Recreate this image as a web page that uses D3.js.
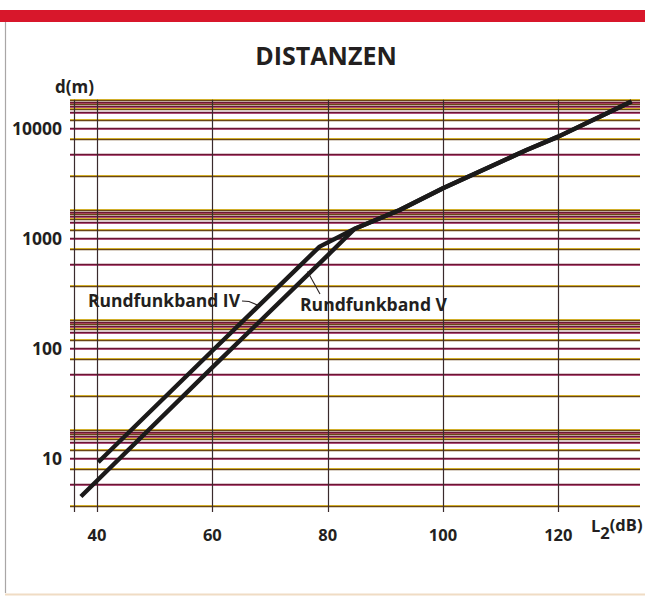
<!DOCTYPE html>
<html>
<head>
<meta charset="utf-8">
<script src="https://cdn.jsdelivr.net/npm/d3@7"></script>
<style>
	body { margin: 0; background: #fff; }
	text { font-family: "Open Sans", sans-serif; fill: #231f20; }
</style>
</head>
<body>
<div id="chart"></div>
<script>
// values
const xTicks = [40, 60, 80, 100, 120];
const yTicks = [10, 100, 1000, 10000];
const decades = [10, 100, 1000, 10000];
// horizontal rules inside each decade, as a factor of the decade
const gridSteps = [0.37, 0.58, 0.8, 1, 1.2, 1.4, 1.5, 1.6, 1.67, 1.74, 1.8];

// [L2 (dB), d (m)]
const bandIV = [[40.2, 9.2], [60, 95], [78.6, 840], [84.7, 1220]];
const bandV = [[37.2, 4.5], [60, 67], [80, 700], [84.7, 1220]];
const common = [[84.7, 1220], [92.5, 1810], [100, 2850], [114.5, 6350], [120, 8400], [132.7, 17500]];

const width = 645;
const height = 596;

const svg = d3.select('#chart').append('svg')
	.attr('width', width)
	.attr('height', height);

const x = d3.scaleLinear()
	.domain([36, 134])
	.range([74, 639]);

const y = d3.scaleLog()
	.domain([10, 10000])
	.range([458.3, 128.3]);

// page furniture: red band and frame
svg.append('rect')
	.attr('x', 0).attr('y', 10)
	.attr('width', width).attr('height', 12)
	.attr('fill', '#d8172b');
svg.append('line')
	.attr('x1', 5.5).attr('x2', 5.5)
	.attr('y1', 22).attr('y2', 593)
	.attr('stroke', '#a9a6a6').attr('stroke-width', 1.2);
svg.append('line')
	.attr('x1', 5).attr('x2', width)
	.attr('y1', 594.5).attr('y2', 594.5)
	.attr('stroke', '#f0dcc4').attr('stroke-width', 2);

// title
svg.append('text')
	.attr('x', 326).attr('y', 64.5)
	.attr('text-anchor', 'middle')
	.style('font-size', '25px')
	.style('font-weight', 700)
	.text('DISTANZEN');

// horizontal grid
const gridValues = [];
decades.forEach(dec => gridSteps.forEach((s, i) => gridValues.push({ v: dec * s, i })));

const topY = y(10000 * 1.8);

const hGrid = svg.append('g');
gridValues.forEach(d => {
	const yy = Math.round(y(d.v)) + 0.5;
	const gold = d.i % 2 === 0;
	hGrid.append('line')
		.attr('x1', 70).attr('x2', 640)
		.attr('y1', gold ? yy - 1 : yy + 1).attr('y2', gold ? yy - 1 : yy + 1)
		.attr('stroke', gold ? '#f3c800' : '#b8407a')
		.attr('stroke-width', 1)
		.attr('opacity', 0.8);
	hGrid.append('line')
		.attr('x1', 70).attr('x2', 640)
		.attr('y1', yy).attr('y2', yy)
		.attr('stroke', gold ? '#6a4614' : '#6b1532')
		.attr('stroke-width', 1.3);
});

// vertical grid, incl. the left axis line
const vGrid = svg.append('g');
[36, ...xTicks].forEach(v => {
	const xx = Math.round(x(v)) + 0.5;
	vGrid.append('line')
		.attr('x1', xx).attr('x2', xx)
		.attr('y1', topY - 0.5).attr('y2', 512)
		.attr('stroke', '#3a2a2c')
		.attr('stroke-width', 1.2);
});

// tick labels
svg.append('g')
	.selectAll('text')
	.data(xTicks)
	.enter().append('text')
		.attr('x', d => x(d))
		.attr('y', 541)
		.attr('text-anchor', 'middle')
		.style('font-size', '16.5px')
		.style('font-weight', 700)
		.text(d => d);

svg.append('g')
	.selectAll('text')
	.data(yTicks)
	.enter().append('text')
		.attr('x', 62)
		.attr('y', d => y(d) + 6.3)
		.attr('text-anchor', 'end')
		.style('font-size', '17.5px')
		.style('font-weight', 700)
		.text(d => d);

// axis titles
svg.append('text')
	.attr('x', 55).attr('y', 93)
	.style('font-size', '17px')
	.style('font-weight', 700)
	.text('d(m)');

const xTitle = svg.append('text')
	.attr('x', 591).attr('y', 532)
	.style('font-size', '16.5px')
	.style('font-weight', 700);
xTitle.append('tspan').text('L');
xTitle.append('tspan').attr('dy', 7).text('2');
xTitle.append('tspan').attr('dy', -8).text('(dB)');

// curves
const line = d3.line()
	.x(d => x(d[0]))
	.y(d => y(d[1]));

svg.append('g')
	.selectAll('path')
	.data([bandIV.concat(common.slice(1)), bandV.concat(common.slice(1))])
	.enter().append('path')
		.attr('d', line)
		.attr('fill', 'none')
		.attr('stroke', '#1b1a1a')
		.attr('stroke-width', 4.4)
		.attr('stroke-linejoin', 'round');

// band labels with leader lines
svg.append('text')
	.attr('x', 88).attr('y', 307)
	.attr('textLength', 152).attr('lengthAdjust', 'spacingAndGlyphs')
	.style('font-size', '17px')
	.style('font-weight', 700)
	.text('Rundfunkband IV');

svg.append('text')
	.attr('x', 300).attr('y', 311)
	.attr('textLength', 147).attr('lengthAdjust', 'spacingAndGlyphs')
	.style('font-size', '17px')
	.style('font-weight', 700)
	.text('Rundfunkband V');

// leader to band IV
svg.append('path')
	.attr('d', `M242,301 L249,301.5 L${x(68)},${y(245)}`)
	.attr('fill', 'none')
	.attr('stroke', '#2a2222')
	.attr('stroke-width', 1.1);

// leader to band V
svg.append('line')
	.attr('x1', x(76.5)).attr('y1', y(500))
	.attr('x2', 320).attr('y2', 294)
	.attr('stroke', '#2a2222')
	.attr('stroke-width', 1.1);
</script>
</body>
</html>
